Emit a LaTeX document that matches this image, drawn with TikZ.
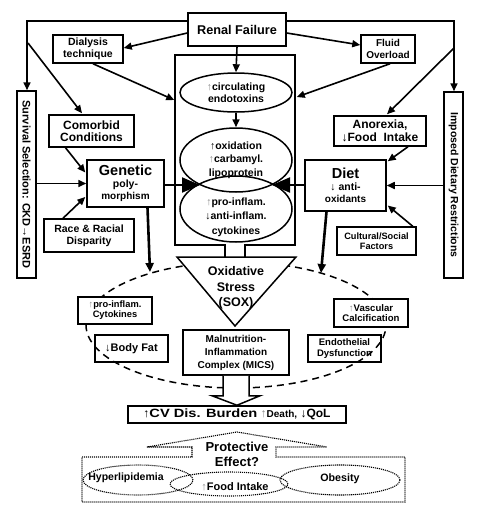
\documentclass[tikz,border=0pt]{standalone}
\usepackage{fontspec}
\setmainfont{Liberation Sans}
\newfontfamily\widefont[FakeStretch=1.22]{Liberation Sans}
\usetikzlibrary{arrows.meta,calc,shapes.geometric}
\newcommand{\fs}[2]{\fontsize{#1}{#2}\selectfont}
\newcommand{\gup}{{\mdseries\color{black!45}↑}}
\newcommand{\bup}{{\mdseries ↑}}
\newcommand{\bdn}{{\mdseries ↓}}
\begin{document}
\begin{tikzpicture}[x=1pt,y=-1pt,
  box/.style={draw, line width=1.5pt, fill=white, inner sep=0pt, align=center, font=\bfseries},
  obox/.style={draw, line width=1.5pt, inner sep=0pt, align=center, font=\bfseries},
  conn/.style={line width=1.6pt, -{Triangle[length=8pt,width=7pt]}},
  bigarr/.style={line width=2pt, -{Triangle[length=18pt,width=15pt]}},
  thk/.style={line width=2.6pt, -{Triangle[length=9pt,width=8pt]}},
  oval/.style={draw, ellipse, line width=1.5pt, inner sep=0pt, align=center, font=\bfseries},
  dotline/.style={line width=1.1pt, dash pattern=on 1.1pt off 0.9pt},
  txt/.style={align=center, font=\bfseries, inner sep=0pt},
]
\useasboundingbox (0,0) rectangle (483,512);

% dashed MICS ellipse
\draw[line width=1.5pt, dash pattern=on 7pt off 5pt] (236,325) ellipse [x radius=150pt, y radius=63pt];

% top row
\node[box, minimum width=98pt, minimum height=33pt, font=\bfseries\fs{12.7}{15}] (rf) at (237,29.5) {Renal Failure};
\node[box, minimum width=70pt, minimum height=28pt, font=\bfseries\fs{10.5}{11.5}] (dial) at (88,49) {Dialysis\\technique};
\node[box, minimum width=54pt, minimum height=28pt, font=\bfseries\fs{10}{11.5}] (fluid) at (388,49) {Fluid\\Overload};

% side bars
\node[box, rotate=-90, minimum width=187pt, minimum height=19pt, font=\bfseries\fs{11}{12}] (surv) at (26.5,184.5) {Survival Selection: CKD→ESRD};
\node[box, rotate=-90, minimum width=186pt, minimum height=19pt, font=\bfseries\fs{10.5}{12}] (imp) at (453.5,185) {Imposed Dietary Restrictions};

% central box
\node[draw, line width=1.5pt, minimum width=120pt, minimum height=190pt, inner sep=0pt] (cbox) at (235,150) {};
\fill[white] ($(cbox.south)+(-9,-2)$) rectangle ($(cbox.south)+(9,2)$);
\draw[line width=1.5pt] ($(cbox.south)+(-10,-0.75)$) -- ($(cbox.south)+(-10,12.5)$);
\draw[line width=1.5pt] ($(cbox.south)+(10,-0.75)$) -- ($(cbox.south)+(10,12.5)$);

\node[oval, minimum width=112pt, minimum height=39pt, font=\bfseries\fs{10.5}{12}] (e1) at (236,92.5) {\gup circulating\\endotoxins};
\node[oval, minimum width=112pt, minimum height=64pt, font=\bfseries\fs{10.5}{13.5}] (e2) at (236,160) {\bup oxidation\\\gup carbamyl.\\lipoprotein};
\node[oval, minimum width=112pt, minimum height=66pt] (e3) at (236,209) {};
\node[txt, font=\bfseries\fs{10.5}{14.5}] (e3t) at (236,217) {\gup pro-inflam.\\\bdn anti-inflam.\\cytokines};

% left boxes
\node[box, minimum width=85pt, minimum height=32pt, font=\bfseries\fs{12}{12.5}] (comor) at (91.5,131) {Comorbid\\Conditions};
\node[box, minimum width=77pt, minimum height=47pt] (gen) at (125.5,183.5) {\fs{14.5}{15}Genetic\\\fs{10.5}{11}poly-\\morphism};
\node[box, minimum width=90pt, minimum height=33pt, font=\bfseries\fs{10.5}{12}] (race) at (89,235.5) {Race \& Racial\\Disparity};

% right boxes
\node[box, minimum width=92pt, minimum height=30pt, font=\bfseries\fs{12}{13}] (anor) at (380,131) {Anorexia,\\\bdn Food\ \ Intake};
\node[box, minimum width=81pt, minimum height=51pt] (diet) at (345.5,185.5) {\fs{14.5}{15}Diet\\\fs{10.5}{12}\bdn\ anti-\\oxidants};
\node[box, minimum width=79pt, minimum height=28pt, font=\bfseries\fs{9.2}{10.5}] (cult) at (376.5,241) {Cultural/Social\\Factors};

% connectors top
\coordinate (tl) at (27,21);
\coordinate (tr) at (454,21);
\draw[conn] (rf.west |- tl) -- (tl) -- (tl |- surv.west);
\draw[conn] (rf.east |- tr) -- (tr) -- (tr |- imp.west);
\draw[conn] ($(rf.west)+(0,3.5)$) -- ($(dial.east)+(0,-1)$);
\draw[conn] ($(rf.east)+(0,3.5)$) -- ($(fluid.west)+(0,-4)$);
\draw[conn] (rf.south) -- (e1.north);
\draw[conn] (e1.south) -- (e2.north);
\draw[conn] ($(dial.south)+(5,0)$) -- ($(cbox.west)+(0,-50)$);
\draw[conn] ($(fluid.south)+(2,0)$) -- ($(cbox.east)+(1,-53)$);
\draw[conn] ($(tl)+(1,22)$) -- ($(comor.north)+(-9.5,-1)$);
\draw[conn] ($(tr)+(0,27)$) -- ($(anor.north)+(7,-1)$);
\draw[conn] ($(comor.south)+(-26,0)$) -- ($(gen.west)+(-1,-11)$);
\draw[conn] ($(race.north)+(-26,0)$) -- ($(gen.west)+(-1,13.5)$);
\draw[conn] (gen.west -| surv.north) -- (gen.west);
\draw[conn] (diet.east -| imp.south) -- (diet.east);
\draw[conn] ($(anor.south)+(28,0)$) -- ($(diet.north east)+(1,2)$);
\draw[conn] ($(cult.north east)+(-4,0)$) -- ($(diet.east)+(1,20)$);

\coordinate (xl) at (200,185);
\coordinate (xr) at (272,185);
\draw[bigarr] (gen.east |- xl) -- (xl);
\draw[bigarr] (diet.west |- xr) -- (xr);

\coordinate (gb) at (150,272);
\coordinate (db) at (321,273);
\draw[thk] ($(gen.south)+(22,0)$) -- (gb);
\draw[thk] ($(diet.south)+(-19,0)$) -- (db);

% oxidative stress triangle
\draw[line width=1.5pt, fill=white] (177,257) -- (296,257) -- (235,326) -- cycle;
\node[txt, font=\bfseries\fs{12.5}{15.5}] (sox) at (236,288) {Oxidative\\Stress\\(SOX)};

% lower boxes
\node[box, minimum width=106pt, minimum height=45pt, font=\bfseries\fs{10}{13}] (mics) at (236,352.5) {Malnutrition-\\Inflammation\\Complex (MICS)};
\node[box, minimum width=74pt, minimum height=27pt, font=\bfseries\fs{9.3}{10}] (pro) at (115,310.5) {\gup pro-inflam.\\Cytokines};
\node[obox, minimum width=73pt, minimum height=27pt, font=\bfseries\fs{11}{12}] (bf) at (131.5,348.5) {\bdn Body Fat};
\node[box, minimum width=74pt, minimum height=28pt, font=\bfseries\fs{9.6}{10.5}] (vasc) at (371,313) {\gup Vascular\\Calcification};
\node[obox, minimum width=73pt, minimum height=27pt, font=\bfseries\fs{9.5}{10.5}] (endo) at (344.5,348.5) {Endothelial\\Dysfunction};

\node[box, minimum width=218pt, minimum height=17pt, font=\bfseries\fs{12}{13}] (cv) at (237,414.5) {\bup{\widefont CV Dis. Burden} \gup{\fs{10}{10}Death,} \bdn QoL};

% hollow arrow
\draw[line width=1.5pt, fill=white] ($(mics.south)+(-13,0)$) -- ($(mics.south)+(-13,20)$) -- ($(mics.south)+(-24,20)$) -- (cv.north) -- ($(mics.south)+(24,20)$) -- ($(mics.south)+(13,20)$) -- ($(mics.south)+(13,0)$);

% protective effect
\draw[dotline] (82,457) -- (192,457) -- (192,447) -- (147,447) -- (237,432) -- (327,447) -- (276,447) -- (276,457) -- (405,457) -- (405,502) -- (82,502) -- cycle;
\node[txt, font=\bfseries\fs{13}{15}] (prot) at (237,454) {Protective\\Effect?};
\node[draw, ellipse, dotline, minimum width=110pt, minimum height=30pt, inner sep=0pt] (hyp) at (138,480) {};
\node[draw, ellipse, dotline, minimum width=118pt, minimum height=24pt, inner sep=0pt] (food) at (229,484) {};
\node[draw, ellipse, dotline, minimum width=120pt, minimum height=30pt, inner sep=0pt] (obe) at (340,480) {};
\node[txt, font=\bfseries\fs{10.5}{12}] (hypt) at (126,478) {Hyperlipidemia};
\node[txt, font=\bfseries\fs{11}{12}] (foodt) at (235,487) {\gup Food Intake};
\node[txt, font=\bfseries\fs{10.7}{12}] (obet) at (340,479) {Obesity};
\end{tikzpicture}
\end{document}
